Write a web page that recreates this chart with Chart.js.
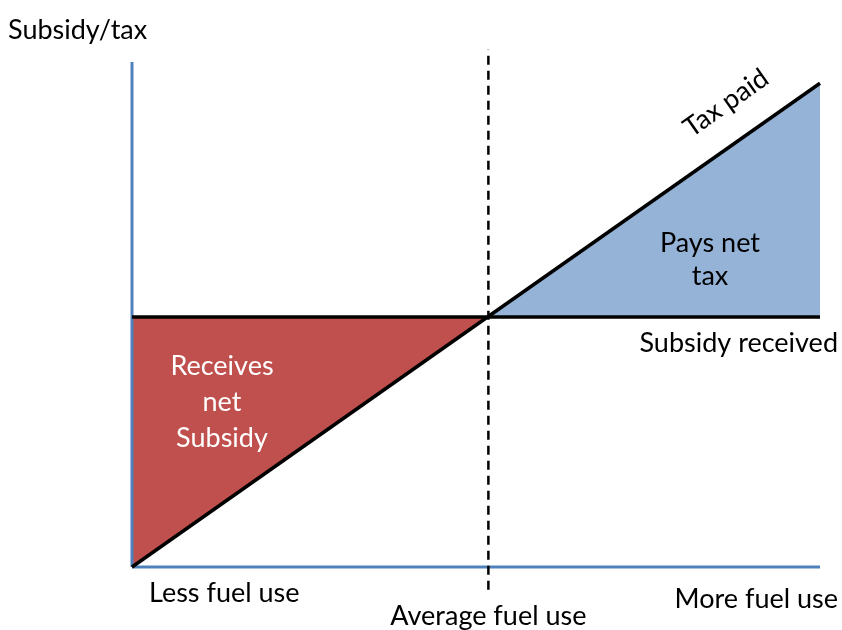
<!DOCTYPE html>
<html>
<head>
<meta charset="utf-8">
<script src="https://cdn.jsdelivr.net/npm/chart.js@4/dist/chart.umd.min.js"></script>
<style>
  html, body { margin: 0; padding: 0; background: #fff; }
  canvas { display: block; }
</style>
</head>
<body>
<canvas id="c" width="842" height="630"></canvas>
<script>
// fuel use (0..100) vs subsidy/tax (0..100)
const taxPaid = [{ x: 0, y: 0 }, { x: 100, y: 95.8 }];
const subsidyReceived = [{ x: 0, y: 49.5 }, { x: 100, y: 49.5 }];
const averageUse = [{ x: 51.8, y: -4.5 }, { x: 51.8, y: 102.5 }];
const netSubsidyArea = [{ x: 0, y: 0 }, { x: 0, y: 49.5 }, { x: 51.7, y: 49.5 }, { x: 0, y: 0 }];
const netTaxArea = [{ x: 51.7, y: 49.5 }, { x: 100, y: 95.8 }, { x: 100, y: 49.5 }, { x: 51.7, y: 49.5 }];
const yAxisLine = [{ x: 0, y: 0 }, { x: 0, y: 100 }];
const xAxisLine = [{ x: 0, y: 0 }, { x: 100, y: 0 }];

const FONT = 'Lato, "Open Sans", sans-serif';
const AXIS = '#4f81bd';

const labelsPlugin = {
    id: 'labels',
    afterDraw(chart) {
        const ctx = chart.ctx;
        const xs = chart.scales.x, ys = chart.scales.y;
        ctx.save();
        ctx.font = '27px ' + FONT;
        ctx.fillStyle = '#000';
        ctx.textBaseline = 'middle';

        ctx.textAlign = 'left';
        ctx.fillText('Subsidy/tax', 8, 30);
        ctx.fillText('Less fuel use', 149, 593);

        ctx.textAlign = 'center';
        ctx.fillText('Average fuel use', xs.getPixelForValue(51.8), 616);
        ctx.fillText('Pays net', 710, 243);
        ctx.fillText('tax', 710, 276);

        ctx.textAlign = 'right';
        ctx.fillText('More fuel use', 838, 599);
        ctx.fillText('Subsidy received', 838, 343);

        ctx.fillStyle = '#fff';
        ctx.textAlign = 'center';
        ctx.fillText('Receives', 222, 366);
        ctx.fillText('net', 222, 402);
        ctx.fillText('Subsidy', 222, 438);

        // rotated label along the tax line
        const ang = Math.atan2(ys.getPixelForValue(95.8) - ys.getPixelForValue(0),
            xs.getPixelForValue(100) - xs.getPixelForValue(0));
        ctx.fillStyle = '#000';
        ctx.translate(726, 103);
        ctx.rotate(ang);
        ctx.fillText('Tax paid', 0, 0);
        ctx.restore();
    }
};

const line = (data, color, width, order, extra) => Object.assign({
    data: data, borderColor: color, borderWidth: width, pointRadius: 0,
    fill: false, tension: 0, order: order, clip: false
}, extra || {});

new Chart(document.getElementById('c'), {
    type: 'line',
    data: {
        datasets: [
            line(netSubsidyArea, 'rgba(0,0,0,0)', 0, 6, { fill: 'shape', backgroundColor: '#c0504d' }),
            line(netTaxArea, 'rgba(0,0,0,0)', 0, 5, { fill: 'shape', backgroundColor: '#95b3d7' }),
            line(yAxisLine, AXIS, 3, 4),
            line(xAxisLine, AXIS, 3, 3),
            line(subsidyReceived, '#000', 3.5, 2),
            line(taxPaid, '#000', 3.5, 1),
            line(averageUse, '#000', 2.5, 0, { borderDash: [9, 6] })
        ]
    },
    options: {
        responsive: false,
        animation: false,
        layout: { padding: { left: 132, top: 62, right: 22, bottom: 63 } },
        plugins: { legend: { display: false }, tooltip: { enabled: false } },
        scales: {
            x: { type: 'linear', min: 0, max: 100, display: false },
            y: { type: 'linear', min: 0, max: 100, display: false }
        }
    },
    plugins: [labelsPlugin]
});
</script>
</body>
</html>
